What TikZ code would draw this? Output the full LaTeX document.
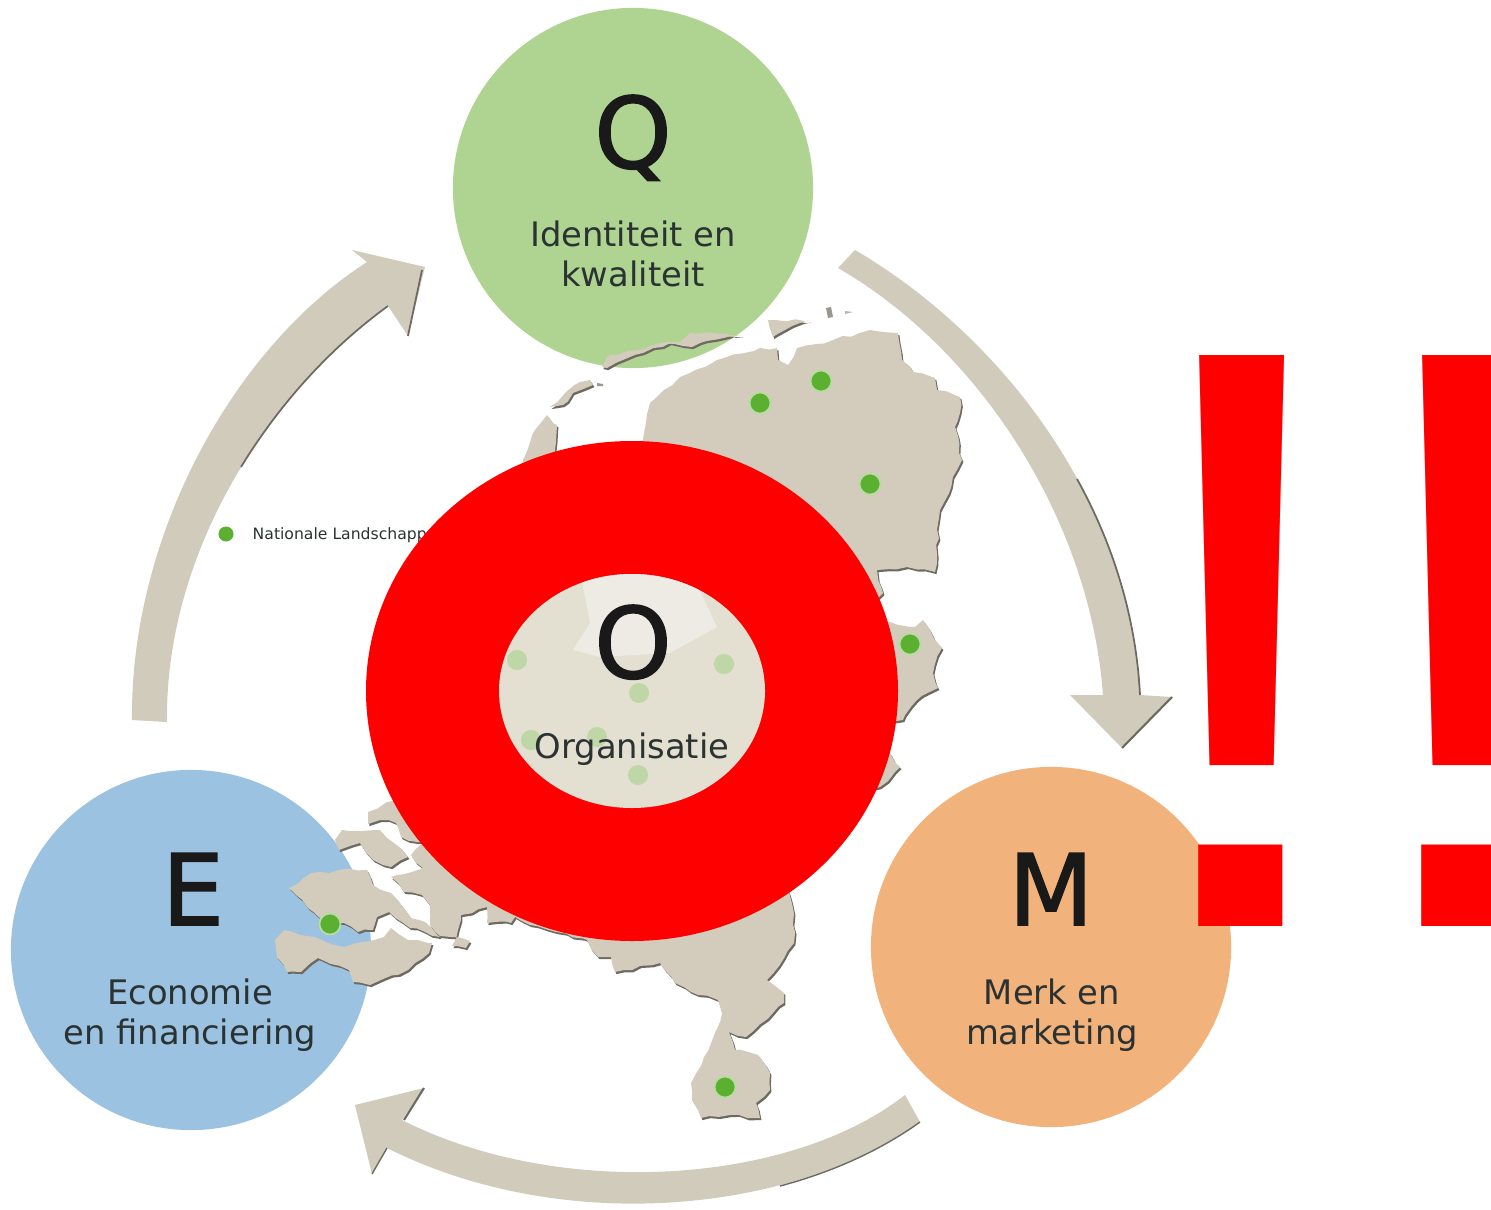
\documentclass[tikz,border=0pt]{standalone}
\usepackage{fontspec}
\usetikzlibrary{decorations.pathmorphing}
\setmainfont{DejaVu Sans}
\newfontfamily\bangfont[FakeStretch=1.07]{Liberation Sans}
\newfontfamily\letterfont[FakeBold=1.5]{DejaVu Sans}
\definecolor{qgreen}{HTML}{AFD492}
\definecolor{eblue}{HTML}{9BC2E0}
\definecolor{morange}{HTML}{F1B27B}
\definecolor{landtan}{HTML}{D3CCBC}
\definecolor{landdark}{HTML}{6E6A62}
\definecolor{arrowtan}{HTML}{D1CBBB}
\definecolor{organcol}{HTML}{E3DFD1}
\definecolor{watercol}{HTML}{EDEBE3}
\definecolor{labelcol}{HTML}{2B3232}
\definecolor{citygreen}{HTML}{5BB032}
\definecolor{cityhalo}{HTML}{B7DBA0}
\definecolor{fadegreen}{HTML}{BFD6A6}
\tikzset{
	bigcircle/.style={circle, minimum size=3.6cm, inner sep=0pt},
	bigletter/.style={font=\letterfont\fontsize{28}{30}\selectfont, text=black!90, inner sep=0pt, anchor=base},
	sublabel/.style={font=\fontsize{9.6}{11.4}\selectfont, text=labelcol, align=center, inner sep=0pt},
	land/.style={fill=landtan, decorate, decoration={random steps, segment length=2.6pt, amplitude=.45pt}, preaction={fill=landdark, transform canvas={xshift=.4pt, yshift=-.6pt}}},
	citydot/.style={circle, fill=citygreen, draw=cityhalo, line width=.5pt, minimum size=.21cm, inner sep=0pt},
	fadedot/.style={circle, fill=fadegreen, minimum size=.2cm, inner sep=0pt},
}
\begin{document}
\begin{tikzpicture}[x=.01cm, y=-.01cm]
	\path[use as bounding box] (0,0) rectangle (1491,1209);
	\clip (0,0) rectangle (1491,1209);
	% circles
	\node[bigcircle, fill=qgreen] (qcircle) at (633,188) {};
	\node[bigcircle, fill=eblue] (ecircle) at (191,950) {};
	\node[bigcircle, fill=morange] (mcircle) at (1051,947) {};
	% arrows
	\fill[arrowtan] (855,250) .. controls (1000,335) and (1130,500) .. (1140,695) -- (1172,697) -- (1122,748) -- (1070,695) -- (1103,695) .. controls (1090,520) and (980,350) .. (838,268) -- cycle;
	\draw[landdark, line width=.6pt] (1172,697) -- (1122,748);
	\draw[landdark, line width=.5pt] (1077,479) .. controls (1113,544) and (1136,617) .. (1140,695);
	\fill[arrowtan] (132,720) .. controls (130,540) and (230,350) .. (367,262) -- (352,250) -- (425,267) -- (408,336) -- (388,306) .. controls (260,400) and (165,560) .. (167,722) -- cycle;
	\draw[landdark, line width=.5pt] (422,270) -- (408,336);
	\draw[landdark, line width=.5pt] (388,306) .. controls (330,348) and (279.5,404) .. (241,467);
	\fill[arrowtan] (905,1095) .. controls (790,1185) and (560,1200) .. (402,1120) -- (424,1088) -- (355,1105) -- (372,1174) -- (387,1148) .. controls (560,1235) and (790,1215) .. (920,1122) -- cycle;
	\draw[landdark, line width=.6pt] (424,1088) -- (404,1120);
	\draw[landdark, line width=.4pt] (372,1174) -- (387,1148);
	\draw[landdark, line width=.4pt] (780,1186) .. controls (833,1172) and (881,1150) .. (920,1122);
	% map, islands first
	\fill[land] (602,367) -- (610,355) -- (640,350) -- (667,342) -- (680,342) -- (690,333) -- (743,335) -- (700,343) -- (692,347) -- (670,343) -- (643,353) -- (607,368) -- cycle;
	\fill[land] (550,407) -- (566,392) -- (580,382) -- (590,380) -- (593,385) -- (573,393) -- (563,405) -- cycle;
	\fill[land] (768,320) -- (810,320) -- (785,330) -- (773,337) -- cycle;
	\fill[landdark!70] (826,308) -- (831,307) -- (833,317) -- (828,318) -- cycle;
	\fill[landdark!50] (845,311) -- (853,312) -- (845,314) -- cycle;
	\fill[landdark!70] (597,383) -- (603,384) -- (603,386) -- (597,386) -- cycle;
	% north
	\fill[land] (643,440) -- (650,403) -- (680,377) -- (717,360) -- (760,348) -- (777,348) -- (778,360) -- (788,365) -- (797,348) -- (833,340) -- (870,330) -- (898,333) -- (902,360) -- (913,372) -- (935,378) -- (937,390) -- (960,397) -- (960,413) -- (955,427) -- (962,460) -- (940,510) -- (935,572) -- (907,567) -- (877,570) -- (883,593) -- (800,690) -- (600,600) -- cycle;
	\fill[land] (523,460) -- (535,430) -- (547,415) -- (557,425) -- (555,450) -- (555,500) -- (530,500) -- cycle;
	% east
	\fill[land] (850,622) -- (890,622) -- (915,627) -- (923,620) -- (930,630) -- (942,648) -- (933,673) -- (938,688) -- (917,700) -- (903,720) -- (860,722) -- cycle;
	\fill[land] (850,750) -- (890,753) -- (900,767) -- (880,787) -- (850,800) -- cycle;
	% zeeland
	\fill[land] (275,940) -- (284,930) -- (315,937) -- (344,947) -- (384,937) -- (391,928) -- (408,940) -- (432,943) -- (429,953) -- (408,970) -- (370,985) -- (353,982) -- (349,970) -- (318,958) -- (301,972) -- (287,972) -- (277,957) -- cycle;
	\fill[land] (289,888) -- (311,873) -- (329,873) -- (339,870) -- (367,870) -- (373,885) -- (391,893) -- (403,907) -- (411,918) -- (425,922) -- (437,930) -- (440,937) -- (425,932) -- (410,928) -- (389,912) -- (377,917) -- (373,930) -- (358,932) -- (344,923) -- (329,923) -- (308,908) -- cycle;
	\fill[land] (335,840) -- (342,830) -- (380,830) -- (394,843) -- (408,857) -- (391,867) -- (373,860) -- (360,843) -- (339,850) -- cycle;
	\fill[land] (368,812) -- (387,802) -- (420,800) -- (450,850) -- (418,842) -- (401,837) -- (396,823) -- (380,820) -- (368,824) -- cycle;
	% south
	\fill[land] (411,855) -- (423,868) -- (391,877) -- (404,892) -- (422,895) -- (430,905) -- (430,925) -- (440,936) -- (451,937) -- (470,941) -- (466,948) -- (452,946) -- (458,930) -- (461,915) -- (487,907) -- (487,923) -- (511,923) -- (515,917) -- (530,925) -- (556,932) -- (587,940) -- (598,957) -- (611,957) -- (615,972) -- (660,963) -- (675,983) -- (698,995) -- (718,1000) -- (722,1013) -- (715,1033) -- (704,1057) -- (691,1083) -- (692,1100) -- (701,1118) -- (730,1115) -- (760,1118) -- (756,1103) -- (770,1090) -- (770,1073) -- (758,1055) -- (735,1050) -- (729,1032) -- (746,1037) -- (784,1003) -- (784,993) -- (767,980) -- (794,943) -- (794,913) -- (785,880) -- (600,800) -- (450,820) -- cycle;
	% cities
	\node[citydot] (cityfries) at (821,381) {};
	\node[citydot] (citywest) at (760,403) {};
	\node[citydot] (citydrenthe) at (870,484) {};
	\node[citydot] (cityoost) at (910,644) {};
	\node[citydot] (cityzeeland) at (330,924) {};
	\node[citydot] (citylimburg) at (725,1087) {};
	% legend
	\node[citydot, draw=none, minimum size=.15cm] (legenddot) at (226,534) {};
	\node[anchor=west, font=\fontsize{4.45}{5}\selectfont, text=labelcol, inner sep=0pt] (legendtext) at (252,535) {Nationale Landschapp};
	% red ring and faded centre
	\fill[red] (632,691) ellipse [x radius=266, y radius=250];
	\fill[organcol] (632,691) ellipse [x radius=133, y radius=117];
	\begin{scope}
		\clip (632,691) ellipse [x radius=133, y radius=117];
		\fill[watercol] (580,570) -- (590,623) -- (573,650) -- (600,657) -- (670,653) -- (717,627) -- (690,570) -- cycle;
	\end{scope}
	\node[fadedot] (fadea) at (517,660) {};
	\node[fadedot] (fadeb) at (724,664) {};
	\node[fadedot] (fadec) at (639,693) {};
	\node[fadedot] (faded) at (531,740) {};
	\node[fadedot] (fadee) at (597,737) {};
	\node[fadedot] (fadef) at (638,775) {};
	% letters
	\node[bigletter] (qletter) at (633,168) {Q};
	\node[bigletter] (oletter) at (633,678) {O};
	\node[bigletter] (eletter) at (193,925) {E};
	\node[bigletter] (mletter) at (1051,925) {M};
	\node[sublabel] (qlabel) at (633,254) {Identiteit en\\kwaliteit};
	\node[sublabel, anchor=base] (olabel) at (632,758) {Organisatie};
	\node[sublabel] (elabel) at (190,1015) {Economie\\en financiering};
	\node[sublabel] (mlabel) at (1052,1015) {Merk en\\marketing};
	% bangs
	\node[anchor=base west, inner sep=0pt, text=red, font=\bangfont\fontsize{236}{240}\selectfont] (bangs) at (1118,926) {!\kern-7pt!};
\end{tikzpicture}
\end{document}
